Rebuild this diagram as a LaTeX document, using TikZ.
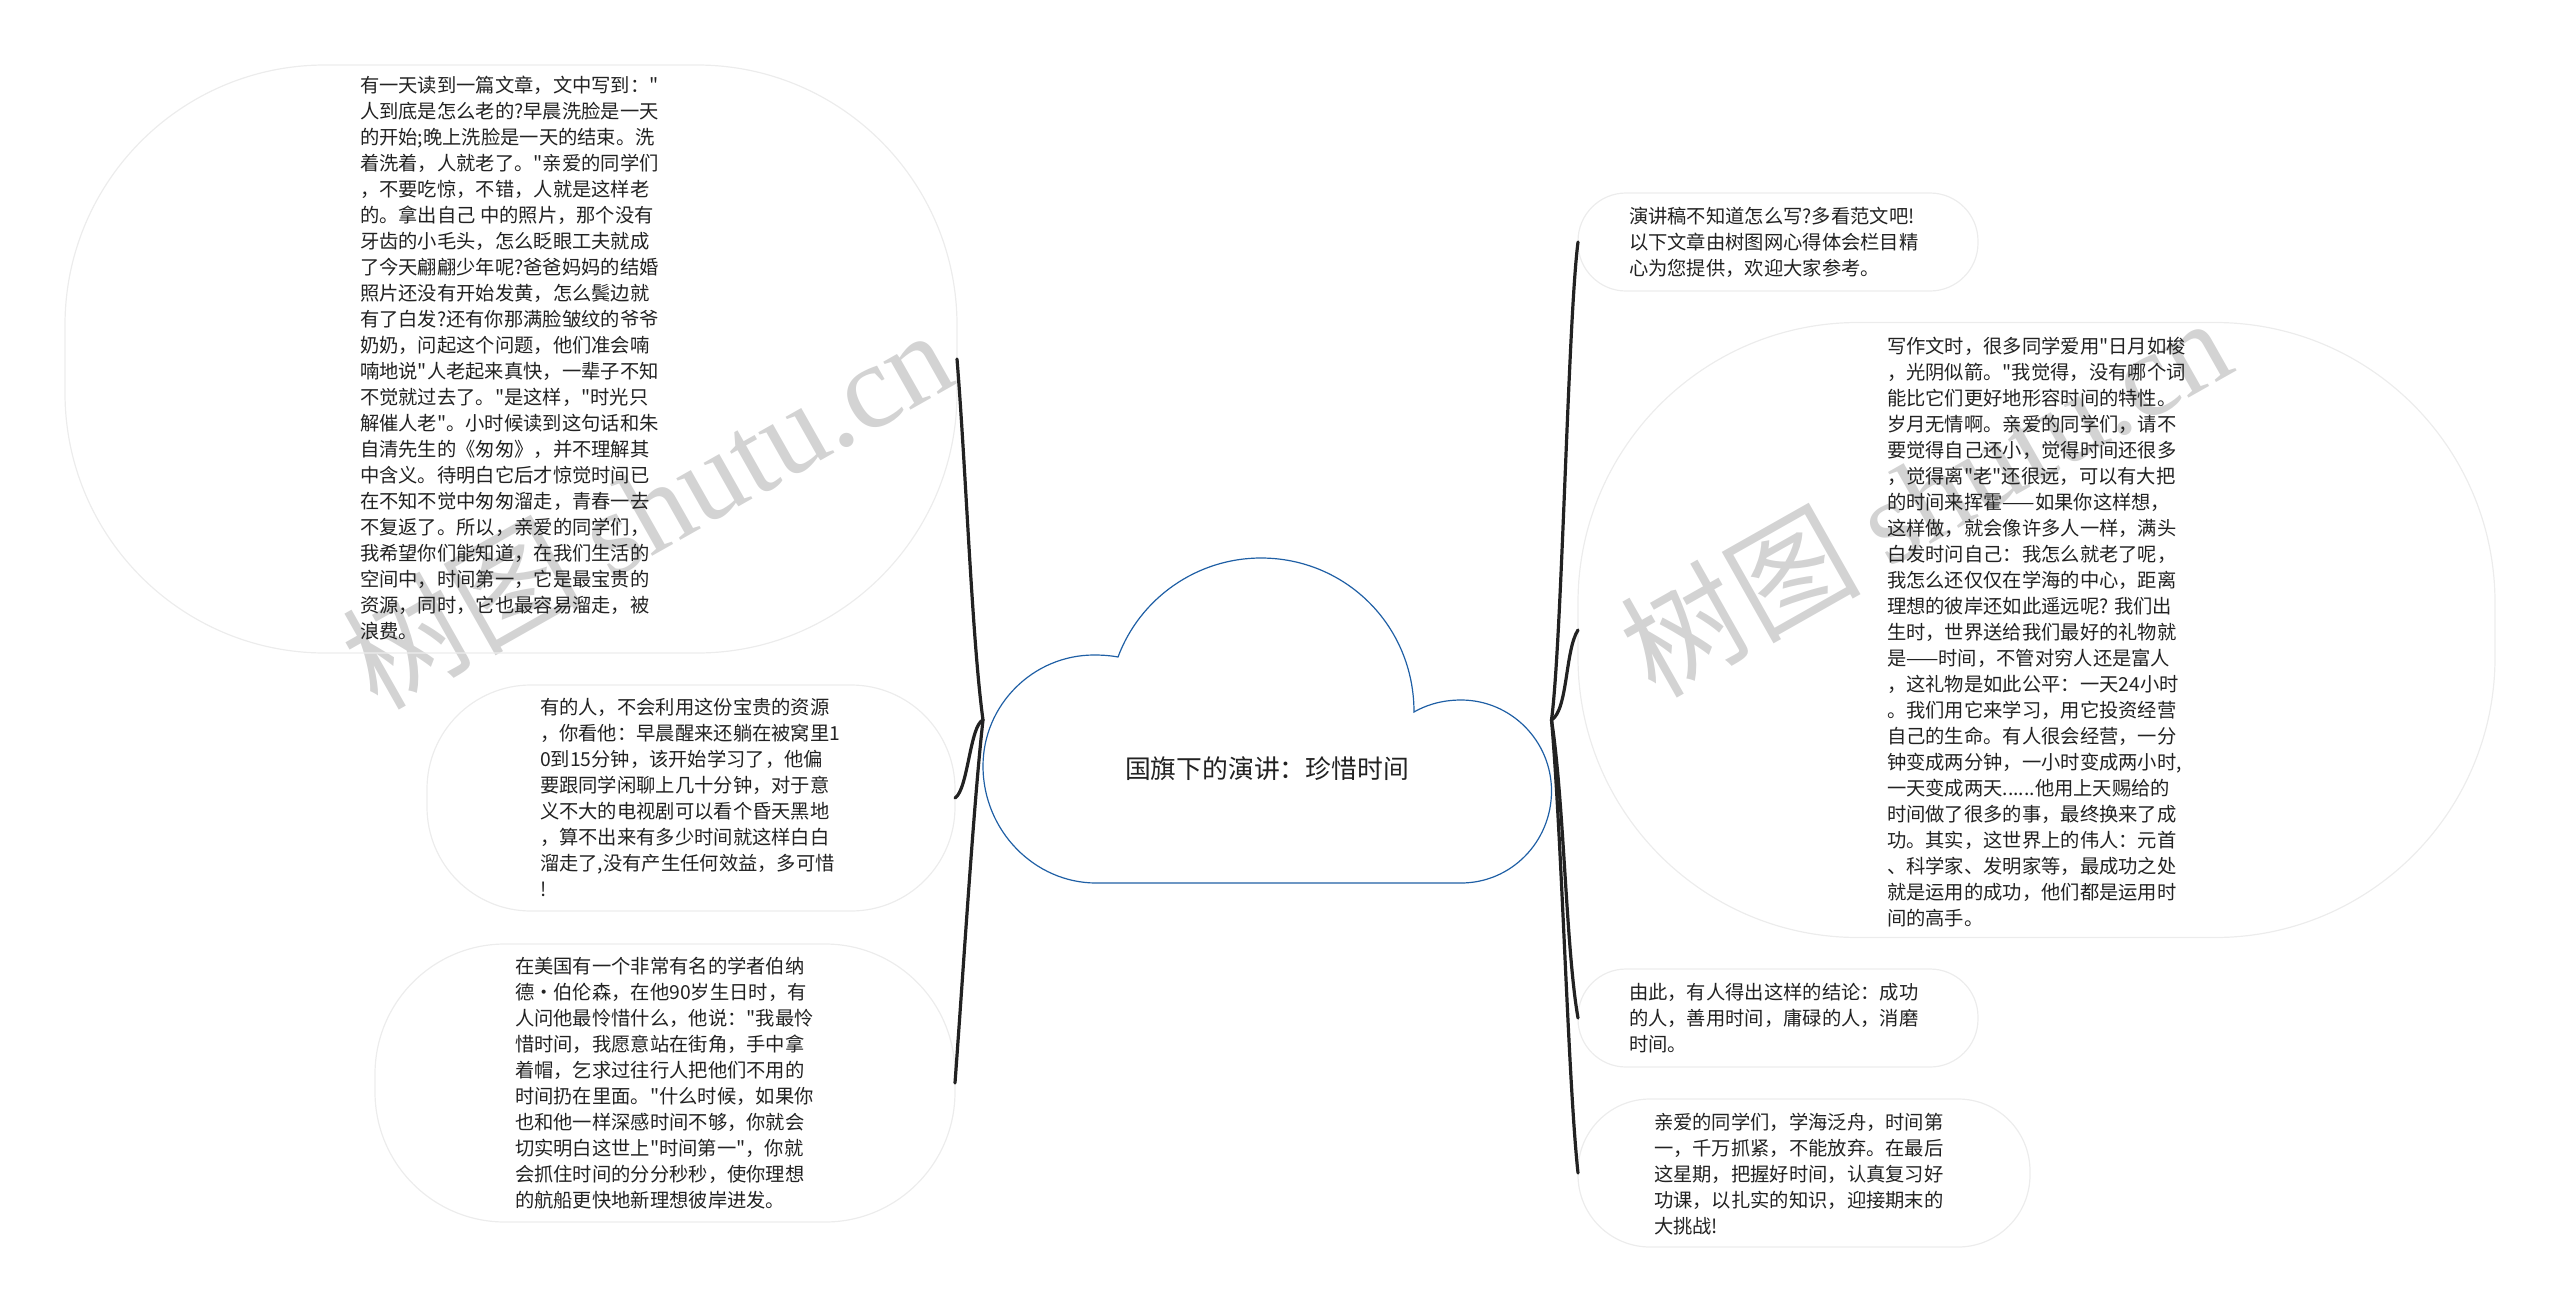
\documentclass[tikz,border=0pt]{standalone}
\usepackage{fontspec}
\setmainfont{Noto Sans CJK SC}
\newfontfamily\plaincjk{Noto Sans CJK SC}
\newfontfamily\wmlatin{Liberation Serif}
\definecolor{bubbleline}{HTML}{ECECEC}
\definecolor{cloudline}{HTML}{1F5FA5}
\definecolor{wmgray}{HTML}{D3D3D3}
\definecolor{inkdark}{HTML}{222222}
\tikzset{
  bubble/.style={draw=bubbleline,line width=0.6pt,inner sep=0pt,outer sep=0pt,fill=none},
  para/.style={anchor=north west,align=left,inner sep=0pt,outer sep=0pt,text=inkdark,font=\plaincjk\fontsize{9.65}{13}\selectfont},
  branch/.style={draw=inkdark,line width=1.6pt,line cap=round},
  wmark/.style={text=wmgray,rotate=29.5,inner sep=0pt,font=\fontsize{60}{70}\selectfont}
}
\begin{document}
\begin{tikzpicture}[x=0.5pt,y=-0.5pt]
\useasboundingbox (0,0) rectangle (2560,1312);
% watermarks
\node[wmark] (wmL) at (647,507) {树图 {\wmlatin shutu.cn}};
\node[wmark] (wmR) at (1925,495) {树图 {\wmlatin shutu.cn}};
% bubbles
\node[bubble,minimum width=446pt,minimum height=294pt,rounded corners=130pt] (l1) at (511,359) {};
\node[bubble,minimum width=264pt,minimum height=113pt,rounded corners=52pt] (l2) at (691,798) {};
\node[bubble,minimum width=290pt,minimum height=139pt,rounded corners=65pt] (l3) at (665,1083) {};
\node[bubble,minimum width=200pt,minimum height=49pt,rounded corners=24pt] (r1) at (1778,242) {};
\node[bubble,minimum width=458.5pt,minimum height=307.5pt,rounded corners=140pt] (r2) at (2036.5,630) {};
\node[bubble,minimum width=200pt,minimum height=49pt,rounded corners=24pt] (r3) at (1778,1018) {};
\node[bubble,minimum width=226pt,minimum height=74pt,rounded corners=36pt] (r4) at (1804,1173) {};
% cloud
\draw[cloudline,line width=0.6pt] (1096,883) -- (1461,883)
  .. controls (1511,883) and (1551.5,842) .. (1551.5,791)
  .. controls (1551.5,741) and (1511,700) .. (1461,700)
  .. controls (1444,700) and (1428,704) .. (1414,712)
  .. controls (1414,625) and (1345,558) .. (1261,558)
  .. controls (1197,558) and (1140,598) .. (1118,657)
  .. controls (1110,655.5) and (1102,655) .. (1094,655)
  .. controls (1033,655) and (983,705) .. (983,766)
  .. controls (983,831) and (1035,883) .. (1096,883) -- cycle;
\node[text=inkdark,inner sep=0pt,font=\fontsize{12.9}{16}\selectfont] (title) at (1267,769) {国旗下的演讲：珍惜时间};
\coordinate (rootL) at (983,720);
\coordinate (rootR) at (1551.5,720);
% connectors
\draw[branch] (rootL) .. controls (972,640) and (966,470) .. (l1.east);
\draw[branch] (rootL) .. controls (970,725) and (968,790) .. (l2.east);
\draw[branch] (rootL) .. controls (974,800) and (964,960) .. (l3.east);
\draw[branch] (rootR) .. controls (1562,640) and (1568,320) .. (r1.west);
\draw[branch] (rootR) .. controls (1568,710) and (1565,650) .. (r2.west);
\draw[branch] (rootR) .. controls (1564,800) and (1566,950) .. (r3.west);
\draw[branch] (rootR) .. controls (1562,840) and (1568,1080) .. (r4.west);
% texts
\node[para] (tl1) at (360,74) {\strut 有一天读到一篇文章，文中写到："\\
人到底是怎么老的?早晨洗脸是一天\\
的开始;晚上洗脸是一天的结束。洗\\
着洗着，人就老了。"亲爱的同学们\\
，不要吃惊，不错，人就是这样老\\
的。拿出自己 中的照片，那个没有\\
牙齿的小毛头，怎么眨眼工夫就成\\
了今天翩翩少年呢?爸爸妈妈的结婚\\
照片还没有开始发黄，怎么鬓边就\\
有了白发?还有你那满脸皱纹的爷爷\\
奶奶，问起这个问题，他们准会喃\\
喃地说"人老起来真快，一辈子不知\\
不觉就过去了。"是这样，"时光只\\
解催人老"。小时候读到这句话和朱\\
自清先生的《匆匆》，并不理解其\\
中含义。待明白它后才惊觉时间已\\
在不知不觉中匆匆溜走，青春一去\\
不复返了。所以，亲爱的同学们，\\
我希望你们能知道，在我们生活的\\
空间中，时间第一，它是最宝贵的\\
资源，同时，它也最容易溜走，被\\
浪费。};
\node[para] (tl2) at (540,696) {\strut 有的人，不会利用这份宝贵的资源\\
，你看他：早晨醒来还躺在被窝里1\\
0到15分钟，该开始学习了，他偏\\
要跟同学闲聊上几十分钟，对于意\\
义不大的电视剧可以看个昏天黑地\\
，算不出来有多少时间就这样白白\\
溜走了,没有产生任何效益，多可惜\\
!};
\node[para] (tl3) at (515,955) {\strut 在美国有一个非常有名的学者伯纳\\
德·伯伦森，在他90岁生日时，有\\
人问他最怜惜什么，他说："我最怜\\
惜时间，我愿意站在街角，手中拿\\
着帽，乞求过往行人把他们不用的\\
时间扔在里面。"什么时候，如果你\\
也和他一样深感时间不够，你就会\\
切实明白这世上"时间第一"，你就\\
会抓住时间的分分秒秒，使你理想\\
的航船更快地新理想彼岸进发。};
\node[para] (tr1) at (1629,205) {\strut 演讲稿不知道怎么写?多看范文吧!\\
以下文章由树图网心得体会栏目精\\
心为您提供，欢迎大家参考。};
\node[para] (tr2) at (1887,335) {\strut 写作文时，很多同学爱用"日月如梭\\
，光阴似箭。"我觉得，没有哪个词\\
能比它们更好地形容时间的特性。\\
岁月无情啊。亲爱的同学们，请不\\
要觉得自己还小，觉得时间还很多\\
，觉得离"老"还很远，可以有大把\\
的时间来挥霍——如果你这样想，\\
这样做，就会像许多人一样，满头\\
白发时问自己：我怎么就老了呢，\\
我怎么还仅仅在学海的中心，距离\\
理想的彼岸还如此遥远呢? 我们出\\
生时，世界送给我们最好的礼物就\\
是——时间，不管对穷人还是富人\\
，这礼物是如此公平：一天24小时\\
。我们用它来学习，用它投资经营\\
自己的生命。有人很会经营，一分\\
钟变成两分钟，一小时变成两小时,\\
一天变成两天......他用上天赐给的\\
时间做了很多的事，最终换来了成\\
功。其实，这世界上的伟人：元首\\
、科学家、发明家等，最成功之处\\
就是运用的成功，他们都是运用时\\
间的高手。};
\node[para] (tr3) at (1629,981) {\strut 由此，有人得出这样的结论：成功\\
的人，善用时间，庸碌的人，消磨\\
时间。};
\node[para] (tr4) at (1654,1111) {\strut 亲爱的同学们，学海泛舟，时间第\\
一，千万抓紧，不能放弃。在最后\\
这星期，把握好时间，认真复习好\\
功课，以扎实的知识，迎接期末的\\
大挑战!};
\end{tikzpicture}
\end{document}
